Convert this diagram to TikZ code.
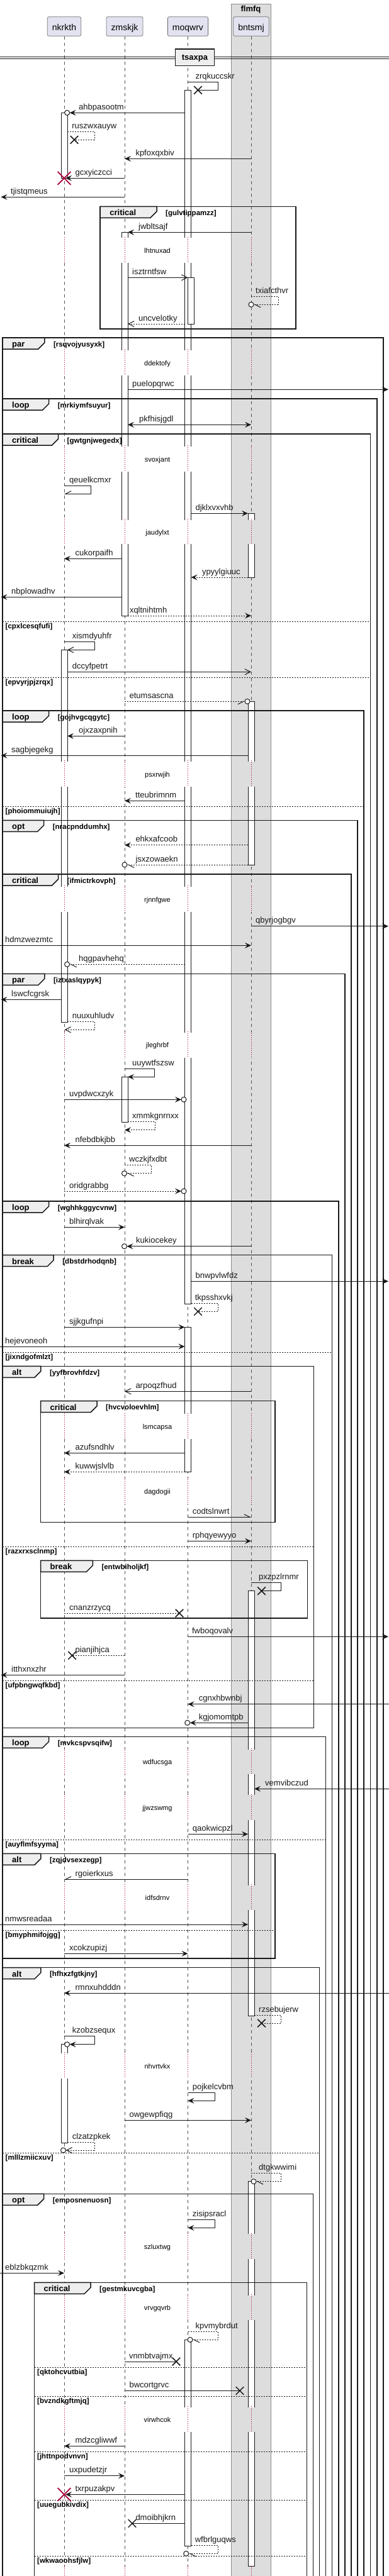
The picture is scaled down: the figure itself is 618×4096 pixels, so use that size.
\documentclass[tikz,border=0pt]{standalone}
\usepackage{fontspec}
\setmainfont{Liberation Sans}
\usepackage{tikz}
\usetikzlibrary{arrows.meta,shapes.misc}
\definecolor{ink}{HTML}{181818}
\definecolor{boxgray}{HTML}{DDDDDD}
\definecolor{boxedge}{HTML}{8C8C8C}
\definecolor{tabgray}{HTML}{EEEEEE}
\definecolor{partfill}{HTML}{E2E2F0}
\definecolor{delayred}{HTML}{A80036}

\tikzset{
  lifeline/.style={draw=ink!75, line width=0.6pt, dash pattern=on 5pt off 5pt},
  part/.style={draw=ink!60, fill=partfill, rounded corners=2.5pt, line width=0.8pt,
    minimum height=30.6pt, inner xsep=7.6pt, text height=12pt, text depth=0pt,
    font=\fontsize{14}{16}\selectfont},
  msgline/.style={draw=ink, line width=1pt},
  dsh/.style={dash pattern=on 2pt off 2pt},
  fh/.style={-{Stealth[length=10pt,width=9pt,inset=4pt]}},
  bh/.style={{Stealth[length=10pt,width=9pt,inset=4pt]}-{Stealth[length=10pt,width=9pt,inset=4pt]}},
  oh/.style={-{Straight Barb[length=9pt,width=9pt]}},
  lh/.style={-{Straight Barb[left,length=9pt,width=9pt]}},
  rh/.style={-{Straight Barb[right,length=9pt,width=9pt]}},
  msglabel/.style={anchor=base west, inner sep=0pt, yshift=5pt, text=ink, font=\fontsize{13}{15}\selectfont},
  endcirc/.style={circle, draw=ink, fill=white, line width=1pt, minimum size=8pt, inner sep=0pt},
  endx/.style={cross out, draw=ink, line width=1.5pt, minimum size=11pt, inner sep=0pt},
  killmark/.style={cross out, draw=delayred, line width=1.8pt, minimum size=19pt, inner sep=0pt},
  grpframe/.style={draw=ink, line width=1.5pt},
  tabtext/.style={anchor=base west, inner sep=0pt, font=\bfseries\fontsize{13}{15}\selectfont},
  condtext/.style={anchor=base west, inner sep=0pt, font=\bfseries\fontsize{11.5}{13}\selectfont},
  elseline/.style={draw=ink, line width=1pt, dash pattern=on 2pt off 2pt},
  delayline/.style={draw=delayred, line width=0.8pt, dash pattern=on 0.8pt off 2.2pt},
  delaytext/.style={anchor=base, inner sep=0pt, font=\fontsize{11}{13}\selectfont},
  actbar/.style={draw=ink, fill=white, line width=1pt}
}

\newcommand{\msg}[7]{%
  \coordinate (#1a) at (#3,#2);
  \coordinate (#1b) at (#4,#2);
  \draw[msgline,#5] (#1a) -- (#1b);
  \node[msglabel] (#1t) at (#6,#2) {#7};}
\newcommand{\selfmsg}[9]{%
  \coordinate (#1a) at (#5,#3);
  \coordinate (#1b) at (#7,#4);
  \draw[msgline,#2] (#1a) -- (#6,#3) -- (#6,#4) -- (#1b);
  \node[msglabel] (#1t) at (#8,#3) {#9};}
\newcommand{\headcirc}[3]{\node[endcirc] (#1) at (#2,#3) {};}
\newcommand{\headx}[3]{\node[endx] (#1) at (#2,#3) {};}
\newcommand{\killx}[3]{\node[killmark] (#1) at (#2,#3) {};}
\newcommand{\frag}[8]{%
  \draw[grpframe] (#2,#3) rectangle (#4,#5);
  \filldraw[grpframe,fill=tabgray] (#2,#3) -- ++(#7,0) -- ++(0,8) -- ++(-10,10) -- (#2,#3+18) -- cycle;
  \node[tabtext] (#1k) at (#2+15,#3+14.5) {#6};
  \node[condtext] (#1c) at (#2+#7+14,#3+14) {#8};}
\newcommand{\elsesep}[5]{%
  \draw[elseline] (#2,#4) -- (#3,#4);
  \node[condtext] (#1) at (#2+4.5,#4+11) {#5};}
\newcommand{\delay}[4]{%
  \foreach \lx in {102,198,298.5}
    \fill[white] (\lx-6,#2+1.5) rectangle (\lx+6,#3);
  \fill[boxgray] (392.5,#2+1.5) rectangle (405.5,#3);
  \foreach \lx in {102,198,298.5,399}
    \draw[delayline] (\lx,#2) -- (\lx,#3);
  \node[delaytext] (#1) at (250,#2/2+#3/2+5) {#4};}

\begin{document}
\begin{tikzpicture}[x=1pt,y=-1pt]
\useasboundingbox (0,0) rectangle (618,4096);
\clip (0,0) rectangle (618,4096);
\filldraw[fill=boxgray, draw=boxedge, line width=0.8pt] (366.9,6) rectangle (430.2,4120);
\node[anchor=base, inner sep=0pt, font=\bfseries\fontsize{13}{15}\selectfont] (flt) at (398.5,18.7) {flmfq};

\node[part] (nk) at (102,42) {nkrkth};
\node[part] (zm) at (198,42) {zmskjk};
\node[part] (mq) at (298.5,42) {moqwrv};
\node[part] (bn) at (399,42) {bntsmj};
\coordinate (bottom) at (0,4100);
\foreach \p in {nk,zm,mq,bn}
  \draw[lifeline] (\p.south) -- (\p.south |- bottom);

\draw[ink, line width=1pt] (0,90.3) -- (618,90.3) (0,93) -- (618,93);
\node[draw=ink, fill=tabgray, line width=1.5pt, minimum width=61.7pt, minimum height=26.3pt,
  text height=8.2pt, text depth=0pt, inner sep=0pt, font=\bfseries\fontsize{13}{15}\selectfont] (sep) at (309.5,91.2) {tsaxpa};

\foreach \bx/\ya/\yb in {298.5/143.3/2073.3, 102/179.3/283.3, 198/369.3/979, 303.5/441.3/515,
    399/816.3/918, 102/1033.3/1625.7, 399/1115.3/1375, 198/1712.3/1784, 298.5/2110.3/2340.3,
    399/2529.7/3205, 102/3250.7/3407, 399/3468.7/4080, 298.5/3720.3/4048}
  \filldraw[actbar] (\bx-5,\ya) rectangle (\bx+5,\yb);

\delay{da}{376.7}{418.3}{lhtnuxad}
\delay{db}{555.3}{596.7}{ddektofy}
\delay{dc}{708.3}{750}{svoxjant}
\delay{dd}{825}{865.3}{jaudylxt}
\delay{de}{1209.3}{1250.7}{psxrwjih}
\delay{df}{1408.3}{1450}{rjnnfgwe}
\delay{dg}{1640}{1681.7}{jleghrbf}
\delay{dh}{2246.7}{2288.3}{lsmcapsa}
\delay{di}{2349.3}{2390.7}{dagdogii}
\delay{dj}{2780}{2820.7}{wdfucsga}
\delay{dk}{2852.7}{2894}{jjwzswmg}
\delay{dl}{2996}{3037.3}{idfsdrnv}
\delay{dm}{3263.3}{3305}{nhvrtvkx}
\delay{dn}{3550.7}{3592.3}{szluxtwg}
\delay{do}{3648.3}{3689.3}{vrvgqvrb}
\delay{dp}{3826}{3866.7}{virwhcok}
\delay{dq}{4080}{4110}{}

\frag{fcra}{159.2}{328.3}{470}{523}{critical}{89.8}{[gulvtippamzz]}
\frag{fpaa}{4}{537}{609}{4120}{par}{66.8}{[rsqvojyusyxk]}
\frag{floa}{4}{634}{599}{4120}{loop}{73.6}{[mrkiymfsuyur]}
\frag{fcrb}{4}{690}{588.3}{4120}{critical}{88.5}{[gwtgnjwegedx]}
\elsesep{fcrba}{4}{588.3}{988.3}{[cpxlcesqfufi]}
\elsesep{fcrbb}{4}{588.3}{1077.3}{[epvyrjpjzrqx]}
\frag{flob}{4}{1130}{578}{4120}{loop}{73.6}{[gojhvgcqgytc]}
\elsesep{floba}{4}{578}{1282.3}{[phoiommuiujh]}
\frag{fopa}{4}{1304.3}{568}{4120}{opt}{65.6}{[nracpnddumhx]}
\frag{fcrc}{4}{1390}{558}{4120}{critical}{88.5}{[ifmictrkovph]}
\frag{fpab}{4}{1548.3}{548}{4120}{par}{66.8}{[iztxaslqypyk]}
\frag{floc}{4}{1910}{538}{4120}{loop}{73.6}{[wghhkggycvnw]}
\frag{fbra}{4}{1995.7}{527.7}{4120}{break}{81.2}{[dbstdrhodqnb]}
\elsesep{fbraa}{4}{527.7}{2150}{[jixndgofmlzt]}
\frag{fala}{4}{2172.3}{498.3}{2747.3}{alt}{60.9}{[yyfbrovhfdzv]}
\elsesep{falaa}{4}{498.3}{2459.3}{[razxrxsclnmp]}
\elsesep{falab}{4}{498.3}{2672.3}{[ufpbngwqfkbd]}
\frag{fcrd}{64.5}{2227.7}{437}{2420.3}{critical}{89.5}{[hvcvoloevhlm]}
\frag{fbrb}{64.5}{2481.3}{488.3}{2573}{break}{82.8}{[entwbiholjkf]}
\frag{flod}{4}{2761.3}{517.4}{4120}{loop}{73.6}{[mvkcspvsqifw]}
\elsesep{floda}{4}{517.4}{2925.3}{[auyflmfsyyma]}
\frag{falb}{4}{2947.3}{437}{3114}{alt}{60.9}{[zqjdvsexzegp]}
\elsesep{falba}{4}{437}{3069.3}{[bmyphmifojgg]}
\frag{falc}{4}{3128.7}{507.5}{4120}{alt}{60.9}{[hfhxzfgtkjny]}
\elsesep{falca}{4}{507.5}{3423.3}{[mlllzmiicxuv]}
\frag{fopb}{4}{3488.3}{497.5}{4120}{opt}{65.6}{[emposnenuosn]}
\frag{fcre}{54.5}{3629.3}{487.5}{4120}{critical}{89.5}{[gestmkuvcgba]}
\elsesep{fcrea}{54.5}{487.5}{3764.3}{[qktohcvutbia]}
\elsesep{fcreb}{54.5}{487.5}{3810.3}{[bvzndkgftmjq]}
\elsesep{fcrec}{54.5}{487.5}{3898.3}{[jhttnpodvnvn]}
\elsesep{fcred}{54.5}{487.5}{3975.3}{[uuegubkivdix]}
\elsesep{fcree}{54.5}{487.5}{4064}{[wkwaoohsfjlw]}

\selfmsg{mzr}{}{130.3}{143.3}{298.5}{346}{314.5}{310.4}{zrqkuccskr}
\headx{mzrx}{314.5}{143.3}
\msg{mah}{179.3}{293.5}{110.6}{fh}{125}{ahbpasootm}
\headcirc{mahc}{106.6}{179.3}
\selfmsg{mru}{dsh}{209.3}{222.3}{107}{150}{118}{114.2}{ruszwxauyw}
\headx{mrux}{118}{222.3}
\msg{mkp}{252.3}{399}{198}{fh}{215.3}{kpfoxqxbiv}
\msg{mgc}{283.3}{198}{104}{fh}{119.4}{gcxyiczcci}
\killx{mgcx}{102}{283.3}
\msg{mtj}{313.3}{198}{1.5}{fh}{17}{tjistqmeus}
\msg{mjw}{369.3}{399}{203}{fh}{220}{jwbltsajf}
\msg{mis}{441.3}{203}{298.5}{oh}{210}{isztrntfsw}
\selfmsg{mtx}{dsh,lh}{471.3}{484.3}{399}{442}{403}{406}{txiafcthvr}
\headcirc{mtxc}{399}{484.3}
\msg{mun}{515}{293.5}{203}{dsh,oh}{220}{uncvelotky}
\msg{mpu}{619.3}{203}{617}{fh}{210}{puelopqrwc}
\msg{mpk}{675.3}{203}{399}{bh}{221}{pkfhisjgdl}
\selfmsg{mqe}{rh}{772.7}{785.3}{102}{144.5}{102}{110}{qeuelkcmxr}
\msg{mdj}{816.3}{303.5}{394}{fh}{310.4}{djklxvxvhb}
\msg{mcu}{888.3}{193}{102}{fh}{119.4}{cukorpaifh}
\msg{myp}{918}{394}{303.5}{dsh,fh}{320.8}{ypyylgiuuc}
\msg{mnb}{949.3}{193}{1.5}{fh}{18}{nbplowadhv}
\msg{mxq}{979}{203}{399}{dsh,fh}{205.8}{xqltnihtmh}
\selfmsg{mxi}{oh}{1020}{1033.3}{102}{150}{107}{114.6}{xismdyuhfr}
\msg{mdc}{1068.3}{107}{399}{oh}{114.6}{dccyfpetrt}
\msg{met}{1115.3}{198}{389}{dsh,rh}{205.4}{etumsascna}
\headcirc{metc}{393}{1115.3}
\msg{moj}{1170.3}{198}{107}{fh}{125}{ojxzaxpnih}
\msg{msa}{1201.3}{394}{1.5}{fh}{18}{sagbjegekg}
\msg{mtt}{1273.3}{293.5}{198}{fh}{215}{tteubrimnm}
\msg{meh}{1343.7}{394}{198}{dsh,fh}{215.3}{ehkxafcoob}
\msg{mjs}{1375}{394}{202}{dsh,lh}{215.3}{jsxzowaekn}
\headcirc{mjsc}{198}{1375}
\msg{mqb}{1472.7}{399}{617}{fh}{406}{qbyrjogbgv}
\msg{mhd}{1503.3}{0}{399}{fh}{8}{hdmzwezmtc}
\msg{mhq}{1533.3}{293.5}{110.6}{dsh,lh}{125}{hqgpavhehq}
\headcirc{mhqc}{106.6}{1533.3}
\msg{mls}{1589.3}{97}{1.5}{fh}{18}{lswcfcgrsk}
\selfmsg{mnu}{dsh,oh}{1624.3}{1637.3}{107}{150}{102.5}{114.6}{nuuxuhludv}
\selfmsg{muu}{fh}{1699.3}{1712.3}{198}{245.6}{203}{210}{uuywtfszsw}
\msg{muv}{1748.3}{102}{288}{fh}{110}{uvpdwcxzyk}
\headcirc{muvc}{292}{1748.3}
\selfmsg{mxm}{dsh,fh}{1783.3}{1796.7}{203}{246}{198}{210}{xmmkgnrnxx}
\msg{mnf}{1821.3}{399}{102}{fh}{119.4}{nfebdbkjbb}
\selfmsg{mwc}{dsh,lh}{1852.3}{1865.7}{198}{240.8}{201.5}{205}{wczkjfxdbt}
\headcirc{mwcc}{197.5}{1865.7}
\msg{mor}{1894}{102}{288}{dsh,fh}{110}{oridgrabbg}
\headcirc{morc}{292}{1894}
\msg{mbl}{1951.3}{102}{198}{fh}{110}{blhirqlvak}
\msg{mku}{1981.7}{399}{201.5}{fh}{216}{kukiocekey}
\headcirc{mkuc}{197.5}{1981.7}
\msg{mbn}{2037.3}{303.5}{617}{fh}{310.4}{bnwpvlwfdz}
\selfmsg{mtk}{dsh}{2072.3}{2085.3}{303.5}{346}{314.5}{309.6}{tkpsshxvkj}
\headx{mtkx}{314.5}{2085.3}
\msg{msj}{2110.3}{102}{293.5}{fh}{110}{sjjkgufnpi}
\msg{mhe}{2141}{0}{293.5}{fh}{8}{hejevoneoh}
\msg{mar}{2212.3}{399}{198}{oh}{215.3}{arpoqzfhud}
\msg{maz}{2310.3}{293.5}{102}{fh}{119.4}{azufsndhlv}
\msg{mkw}{2340.3}{293.5}{102}{dsh,fh}{119.4}{kuwwjslvlb}
\msg{mco}{2412.3}{298.5}{399}{lh}{305.7}{codtslnwrt}
\msg{mrp}{2450.3}{298.5}{399}{fh}{305.7}{rphqyewyyo}
\selfmsg{mpx}{}{2516.3}{2529.7}{399}{446.6}{415.5}{411}{pxzpzlrnmr}
\headx{mpxx}{415.5}{2529.7}
\msg{mcn}{2565}{102}{285}{dsh}{110}{cnanzrzycq}
\headx{mcnx}{285}{2565}
\msg{mfw}{2602.3}{298.5}{617}{fh}{304.9}{fwboqovalv}
\msg{mpi}{2632.3}{198}{114.6}{dsh}{119.4}{pianjihjca}
\headx{mpix}{114.6}{2632.3}
\msg{mit}{2663.3}{198}{1.5}{fh}{18}{itthxnxzhr}
\msg{mcg}{2709.7}{618}{298.5}{fh}{315.6}{cgnxhbwnbj}
\msg{mkg}{2739.3}{394}{301.7}{fh}{315.6}{kgjomomtpb}
\headcirc{mkgc}{297.7}{2739.3}
\msg{mve}{2844.3}{618}{404}{fh}{421}{vemvibczud}
\msg{mqa}{2916.3}{298.5}{394}{fh}{305.7}{qaokwicpzl}
\msg{mrg}{2988.3}{298.5}{102}{rh}{119.4}{rgoierkxus}
\msg{mnm}{3060}{0}{394}{fh}{8}{nmwsreadaa}
\msg{mxc}{3106.3}{102}{298.5}{fh}{110}{xcokzupizj}
\msg{mrm}{3169}{618}{102}{fh}{119.4}{rmnxuhdddn}
\selfmsg{mrz}{dsh}{3204.3}{3217}{404}{446.6}{415.5}{411}{rzsebujerw}
\headx{mrzx}{415.5}{3217}
\selfmsg{mkz}{fh}{3237.3}{3250.7}{102}{150}{110.6}{114.6}{kzobzsequx}
\headcirc{mkzc}{106.6}{3250.7}
\selfmsg{mpo}{fh}{3327.3}{3340.3}{298.5}{341}{298.5}{305.7}{pojkelcvbm}
\msg{mow}{3371.3}{198}{399}{fh}{205.4}{owgewpfiqg}
\selfmsg{mcl}{dsh,oh}{3406}{3419}{107}{150}{104.5}{114.6}{clzatzpkek}
\headcirc{mclc}{100.5}{3419}
\selfmsg{mdt}{dsh,lh}{3455.7}{3468.7}{399}{446.6}{407}{411}{dtgkwwimi}
\headcirc{mdtc}{403}{3468.7}
\selfmsg{mzi}{fh}{3529.3}{3542.3}{298.5}{341}{298.5}{305.7}{zisipsracl}
\msg{meb}{3614.3}{0}{102}{fh}{8}{eblzbkqzmk}
\selfmsg{mkv}{dsh,lh}{3707.3}{3720.3}{298.5}{346}{306}{310.4}{kpvmybrdut}
\headcirc{mkvc}{302}{3720.3}
\msg{mvn}{3755}{198}{280}{}{205}{vnmbtvajmx}
\headx{mvnx}{280}{3755}
\msg{mbw}{3801.3}{198}{381}{}{205.4}{bwcortgrvc}
\headx{mbwx}{381}{3801.3}
\msg{mmd}{3889.3}{198}{102}{fh}{119.4}{mdzcgliwwf}
\msg{mux}{3936.7}{102}{198}{fh}{110}{uxpudetzjr}
\msg{mtr}{3966.3}{293.5}{104}{fh}{119.4}{txrpuzakpv}
\killx{mtrx}{102}{3966.3}
\msg{mdm}{4012.3}{293.5}{210}{}{215.3}{dmoibhjkrn}
\headx{mdmx}{210}{4012.3}
\selfmsg{mwf}{dsh,lh}{4047}{4060.3}{303.5}{346}{299.7}{309.6}{wfbrlguqws}
\headcirc{mwfc}{295.7}{4060.3}
\end{tikzpicture}
\end{document}
